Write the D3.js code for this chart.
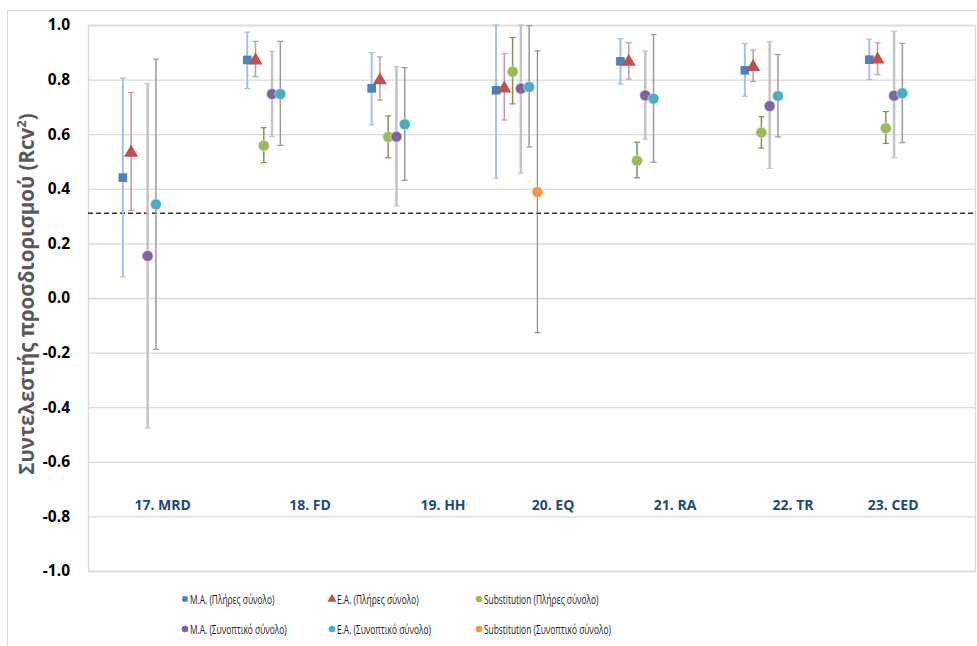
<!DOCTYPE html>
<html>
<head>
<meta charset="utf-8">
<script src="https://cdn.jsdelivr.net/npm/d3@7"></script>
<style>
  html, body { margin: 0; padding: 0; background: #fff; }
  svg { display: block; }
</style>
</head>
<body>
<svg id="chart" width="977" height="646"></svg>
<script>
// Regression groups (x = group number), with their labels
const groups = [17, 18, 19, 20, 21, 22, 23];
const categories = ["17. MRD", "18. FD", "19. HH", "20. EQ", "21. RA", "22. TR", "23. CED"];
// Label points of the helper series that carries the category names
const labelSeriesX = [17.32, 18.505, 19.574, 20.458, 21.439, 22.388, 23.192];
const labelSeriesY = -0.76;

// Rcv² mean and error-bar limits per series
const maFullVal = [0.441, 0.872, 0.768, 0.761, 0.867, 0.834, 0.873];
const maFullHi  = [0.806, 0.974, 0.899, 1.000, 0.950, 0.932, 0.948];
const maFullLo  = [0.077, 0.767, 0.634, 0.438, 0.783, 0.739, 0.800];

const eaFullVal = [0.536, 0.874, 0.801, 0.771, 0.869, 0.850, 0.877];
const eaFullHi  = [0.753, 0.940, 0.883, 0.895, 0.935, 0.908, 0.935];
const eaFullLo  = [0.321, 0.811, 0.725, 0.652, 0.802, 0.793, 0.818];

const subFullVal = [null, 0.558, 0.590, 0.829, 0.503, 0.606, 0.622];
const subFullHi  = [null, 0.624, 0.667, 0.954, 0.571, 0.664, 0.683];
const subFullLo  = [null, 0.496, 0.514, 0.711, 0.440, 0.549, 0.566];

const maSynVal = [0.154, 0.747, 0.591, 0.767, 0.742, 0.703, 0.741];
const maSynHi  = [0.785, 0.904, 0.848, 1.000, 0.905, 0.939, 0.977];
const maSynLo  = [-0.476, 0.591, 0.337, 0.457, 0.582, 0.475, 0.514];

const eaSynVal = [0.343, 0.747, 0.636, 0.773, 0.730, 0.740, 0.750];
const eaSynHi  = [0.875, 0.940, 0.844, 0.998, 0.965, 0.892, 0.933];
const eaSynLo  = [-0.188, 0.559, 0.431, 0.553, 0.497, 0.590, 0.569];

const subSynVal = [null, null, null, 0.388, null, null, null];
const subSynHi  = [null, null, null, 0.905, null, null, null];
const subSynLo  = [null, null, null, -0.127, null, null, null];

const thresholdValue = 0.31;
const yTicks = [-1.0, -0.8, -0.6, -0.4, -0.2, 0.0, 0.2, 0.4, 0.6, 0.8, 1.0];

const seriesNames = [
  "Μ.Α. (Πλήρες σύνολο)",
  "Ε.Α.  (Πλήρες σύνολο)",
  "Substitution  (Πλήρες σύνολο)",
  "Μ.Α. (Συνοπτικό σύνολο)",
  "Ε.Α.  (Συνοπτικό σύνολο)",
  "Substitution  (Συνοπτικό σύνολο)"
];

const series = [
  { name: seriesNames[0], val: maFullVal, hi: maFullHi, lo: maFullLo, shape: "square",   fill: "#4f81bd", bar: "#a7c0e0", barW: 2 },
  { name: seriesNames[1], val: eaFullVal, hi: eaFullHi, lo: eaFullLo, shape: "triangle", fill: "#c0504d", bar: "#c49a9a", barW: 1.5 },
  { name: seriesNames[2], val: subFullVal, hi: subFullHi, lo: subFullLo, shape: "circle", fill: "#9bbb59", bar: "#7f9157", barW: 1.5 },
  { name: seriesNames[3], val: maSynVal, hi: maSynHi, lo: maSynLo, shape: "circle", fill: "#8064a2", bar: "#c4c4c4", barW: 2.5 },
  { name: seriesNames[4], val: eaSynVal, hi: eaSynHi, lo: eaSynLo, shape: "circle", fill: "#4bacc6", bar: "#9a9a9a", barW: 1.5 },
  { name: seriesNames[5], val: subSynVal, hi: subSynHi, lo: subSynLo, shape: "circle", fill: "#f79646", bar: "#8a8a8a", barW: 1.2 }
];
const seriesStep = 0.0665; // horizontal shift between series inside a group

const svg = d3.select("#chart");
const plot = { left: 88, top: 25, right: 975, bottom: 571 };

const x = d3.scaleLinear().domain([16.72, 23.85]).range([plot.left, plot.right]);
const y = d3.scaleLinear().domain([-1, 1]).range([plot.bottom, plot.top]);

// outer chart frame
svg.append("rect")
  .attr("x", 7.5).attr("y", 10.5).attr("width", 1000).attr("height", 700)
  .attr("fill", "none").attr("stroke", "#d9d9d9").attr("stroke-width", 1);

// horizontal gridlines
svg.append("g")
  .attr("transform", `translate(${plot.left},0)`)
  .call(d3.axisLeft(y).tickValues(yTicks).tickSize(-(plot.right - plot.left)).tickFormat(""))
  .call(g => g.select(".domain").remove())
  .call(g => g.selectAll(".tick line").attr("stroke", "#d9d9d9").attr("stroke-width", 1.3));

// plot area border
svg.append("rect")
  .attr("x", plot.left + 0.5).attr("y", plot.top + 0.5)
  .attr("width", plot.right - plot.left).attr("height", plot.bottom - plot.top)
  .attr("fill", "none").attr("stroke", "#d9d9d9").attr("stroke-width", 1.3);

// y-axis tick labels (plain hyphen for negatives)
svg.append("g")
  .attr("transform", `translate(${plot.left},0)`)
  .call(d3.axisLeft(y).tickValues(yTicks).tickSize(0).tickPadding(18).tickFormat(d => d.toFixed(1)))
  .call(g => g.select(".domain").remove())
  .call(g => g.selectAll(".tick text")
    .attr("font-family", "'Open Sans', 'Noto Sans', sans-serif")
    .attr("font-weight", "bold").attr("font-size", 15.5).attr("fill", "#000"));

// y-axis title
const yTitle = svg.append("text")
  .attr("transform", "translate(34,294) rotate(-90)")
  .attr("text-anchor", "middle")
  .attr("font-family", "'Open Sans', 'Noto Sans', sans-serif")
  .attr("font-weight", "bold").attr("font-size", 20.5).attr("fill", "#595959");
yTitle.append("tspan").text("Συντελεστής προσδιορισμού (Rcv");
yTitle.append("tspan").attr("dy", -8).attr("font-size", 13).text("2");
yTitle.append("tspan").attr("dy", 8).text(")");

// threshold line
svg.append("line")
  .attr("x1", plot.left).attr("x2", plot.right)
  .attr("y1", y(thresholdValue)).attr("y2", y(thresholdValue))
  .attr("stroke", "#333").attr("stroke-width", 1.5).attr("stroke-dasharray", "5,3");

// category labels
svg.append("g").selectAll("text")
  .data(categories)
  .join("text")
  .attr("x", (d, i) => x(labelSeriesX[i]))
  .attr("y", y(labelSeriesY))
  .attr("dy", "0.35em")
  .attr("text-anchor", "middle")
  .attr("font-family", "'Open Sans', 'Noto Sans', sans-serif")
  .attr("font-weight", "bold").attr("font-size", 14).attr("fill", "#1f497d")
  .text(d => d);

const markerSize = { square: 75, triangle: 85, circle: 95 };
const symbolType = { square: d3.symbolSquare, triangle: d3.symbolTriangle, circle: d3.symbolCircle };

// series: error bars then markers
series.forEach((s, k) => {
  const pts = groups.map((g, i) => ({ x: g + k * seriesStep, v: s.val[i], hi: s.hi[i], lo: s.lo[i] }))
    .filter(p => p.v !== null);
  const g = svg.append("g");
  const cap = 3;
  pts.forEach(p => {
    const px = x(p.x);
    g.append("line").attr("x1", px).attr("x2", px).attr("y1", y(p.hi)).attr("y2", y(p.lo))
      .attr("stroke", s.bar).attr("stroke-width", s.barW);
    [p.hi, p.lo].forEach(e => {
      g.append("line").attr("x1", px - cap).attr("x2", px + cap).attr("y1", y(e)).attr("y2", y(e))
        .attr("stroke", s.bar).attr("stroke-width", 1.2);
    });
  });
  g.selectAll("path.mark")
    .data(pts)
    .join("path")
    .attr("class", "mark")
    .attr("transform", p => `translate(${x(p.x)},${y(p.v) + (s.shape === "triangle" ? 1 : 0)})`)
    .attr("d", d3.symbol().type(symbolType[s.shape]).size(markerSize[s.shape]))
    .attr("fill", s.fill)
    .attr("stroke", s.shape === "circle" ? "#e8eef5" : "none")
    .attr("stroke-width", 0.6);
});

// legend (two rows of three entries, condensed text)
const legendCols = [185, 332, 479];
const legendRows = [599, 629];
const legend = svg.append("g");
series.forEach((s, k) => {
  const lx = legendCols[k % 3];
  const ly = legendRows[Math.floor(k / 3)];
  const size = s.shape === "square" ? 30 : s.shape === "triangle" ? 36 : 34;
  legend.append("path")
    .attr("transform", `translate(${lx},${ly})`)
    .attr("d", d3.symbol().type(symbolType[s.shape]).size(size))
    .attr("fill", s.fill);
  legend.append("text")
    .attr("transform", `translate(${lx + 5},${ly}) scale(0.67,1)`)
    .attr("dy", "0.36em")
    .attr("font-family", "'Open Sans', 'Noto Sans', sans-serif")
    .attr("font-size", 12.5).attr("fill", "#1a1a1a")
    .text(s.name);
});
</script>
</body>
</html>
